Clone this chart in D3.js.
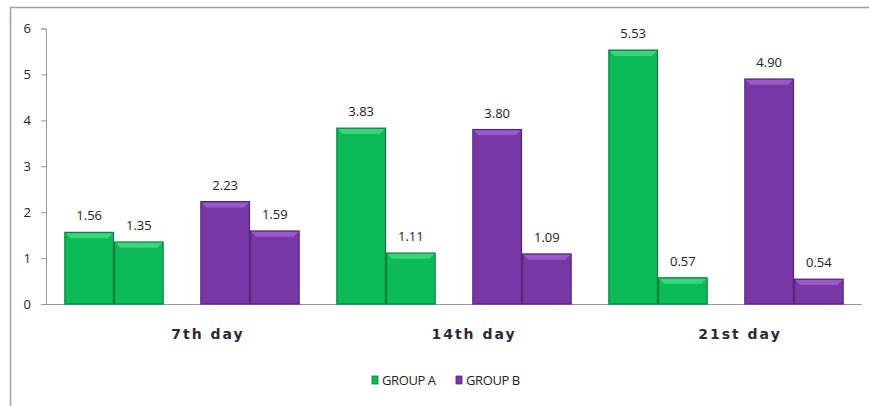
<!DOCTYPE html>
<html>
<head>
<meta charset="utf-8">
<script src="https://cdn.jsdelivr.net/npm/d3@7"></script>
<style>
  body { margin: 0; background: #fff; }
  svg { display: block; }
  .tick-label, .value-label, .legend-label { font-family: "Open Sans", sans-serif; fill: #222; }
  .day-label { font-family: "DejaVu Sans", Verdana, sans-serif; font-weight: bold; fill: #2a2a38; }
</style>
</head>
<body>
<div class="chart"></div>
<script>
// values
var days = ["7th day", "14th day", "21st day"];
var groups = ["GROUP A", "GROUP B"];
var groupAFirst = [1.56, 3.83, 5.53];
var groupASecond = [1.35, 1.11, 0.57];
var groupBFirst = [2.23, 3.80, 4.90];
var groupBSecond = [1.59, 1.09, 0.54];
var yTicks = [0, 1, 2, 3, 4, 5, 6];

var width = 869, height = 406;
var colors = { "GROUP A": "#0bbb57", "GROUP B": "#7837a7" };
var edges = { "GROUP A": "#0a7f3c", "GROUP B": "#532576" };
var tops = { "GROUP A": "#4fe08a", "GROUP B": "#a66ad4" };

// one slot per day+group, two bars per slot
var slots = [];
days.forEach(function(day, i) {
  slots.push({ day: day, group: "GROUP A", values: [groupAFirst[i], groupASecond[i]] });
  slots.push({ day: day, group: "GROUP B", values: [groupBFirst[i], groupBSecond[i]] });
});

var svg = d3.select(".chart").append("svg")
  .attr("width", width)
  .attr("height", height);

// outer frame (only top and left visible)
svg.append("path")
  .attr("d", "M10.5,406 L10.5,7.5 L869,7.5")
  .attr("fill", "none")
  .attr("stroke", "#a0a0a0")
  .attr("stroke-width", 1.5);

var x = d3.scaleBand()
  .domain(d3.range(slots.length))
  .range([46, 862])
  .paddingInner(0.27)
  .paddingOuter(0.135);

var xInner = d3.scaleBand()
  .domain([0, 1])
  .range([0, x.bandwidth()]);

// the day captions sit on their own, slightly shifted, band
var xDay = d3.scaleBand()
  .domain(days)
  .range([75, 873]);

var y = d3.scaleLinear()
  .domain([0, 6])
  .range([304, 28.5]);

// y axis
var yAxis = svg.append("g")
  .attr("transform", "translate(46,0)")
  .call(d3.axisLeft(y).tickValues(yTicks).tickSize(5).tickPadding(10).tickFormat(d3.format("d")));
yAxis.select(".domain").attr("stroke", "#9a9a9a");
yAxis.selectAll(".tick line").attr("stroke", "#9a9a9a");
yAxis.selectAll(".tick text")
  .attr("class", "tick-label")
  .style("font-size", "13px")
  .attr("fill", "#222");

// x axis line
svg.append("line")
  .attr("x1", 46).attr("x2", 862)
  .attr("y1", y(0) + 0.5).attr("y2", y(0) + 0.5)
  .attr("stroke", "#9a9a9a");

// bars
var slotG = svg.selectAll("g.slot")
  .data(slots)
  .enter().append("g")
    .attr("class", "slot")
    .attr("transform", function(d, i) { return "translate(" + x(i) + ",0)"; });

var bars = slotG.selectAll("g.bar")
  .data(function(d) { return d.values.map(function(v, j) { return { v: v, j: j, group: d.group }; }); })
  .enter().append("g")
    .attr("class", "bar");

bars.append("rect")
  .attr("x", function(d) { return xInner(d.j) + 0.5; })
  .attr("y", function(d) { return y(d.v); })
  .attr("width", xInner.bandwidth() - 1)
  .attr("height", function(d) { return y(0) - y(d.v); })
  .attr("fill", function(d) { return colors[d.group]; })
  .attr("stroke", function(d) { return edges[d.group]; })
  .attr("stroke-width", 1.2);

// bevel on top of each bar
bars.append("path")
  .attr("d", function(d) {
    var x0 = xInner(d.j) + 1.2, x1 = xInner(d.j) + xInner.bandwidth() - 1.2;
    var t = y(d.v) + 0.8;
    return "M" + x0 + "," + t + "L" + x1 + "," + t + "L" + (x1 - 5) + "," + (t + 5) + "L" + (x0 + 5) + "," + (t + 5) + "Z";
  })
  .attr("fill", function(d) { return tops[d.group]; })
  .attr("opacity", 0.7);

bars.append("text")
  .attr("class", "value-label")
  .attr("x", function(d) { return xInner(d.j) + xInner.bandwidth() / 2; })
  .attr("y", function(d) { return y(d.v) - 12; })
  .attr("text-anchor", "middle")
  .style("font-size", "13px")
  .text(function(d) { return d.v.toFixed(2); });

// day labels
svg.selectAll("text.day-label")
  .data(days)
  .enter().append("text")
    .attr("class", "day-label")
    .attr("x", function(d) { return xDay(d) + xDay.bandwidth() / 2; })
    .attr("y", 339)
    .attr("text-anchor", "middle")
    .style("font-size", "14px")
    .style("letter-spacing", "2px")
    .text(function(d) { return d; });

// legend
var legendX = [372, 456];
var legend = svg.selectAll("g.legend")
  .data(groups)
  .enter().append("g")
    .attr("class", "legend")
    .attr("transform", function(d, i) { return "translate(" + legendX[i] + ",376)"; });

legend.append("rect")
  .attr("width", 6).attr("height", 8)
  .attr("fill", function(d) { return colors[d]; })
  .attr("stroke", function(d) { return edges[d]; })
  .attr("stroke-width", 0.8);

legend.append("text")
  .attr("class", "legend-label")
  .attr("x", 10)
  .attr("y", 9)
  .style("font-size", "13px")
  .style("letter-spacing", "-0.4px")
  .text(function(d) { return d; });
</script>
</body>
</html>
